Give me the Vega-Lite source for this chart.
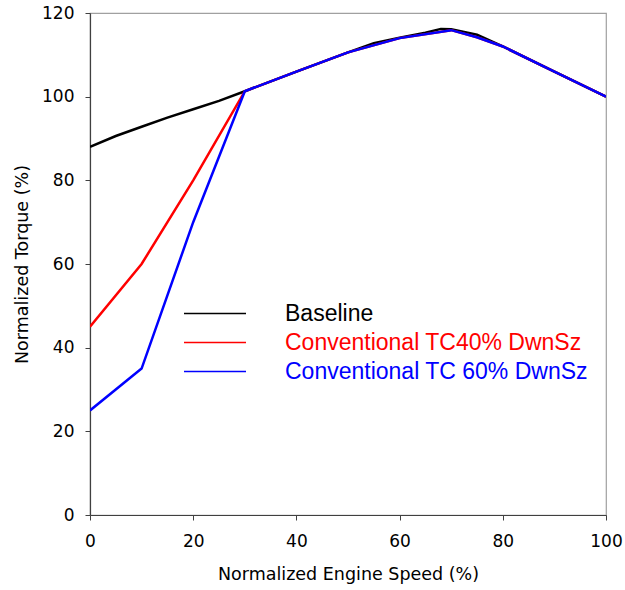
{
  "$schema": "https://vega.github.io/schema/vega-lite/v6.json",
  "width": 516,
  "height": 502,
  "autosize": {"type": "none"},
  "padding": {"left": 90, "top": 13, "right": 19, "bottom": 75},
  "background": "white",
  "config": {
    "view": {"stroke": "#a0a0a0", "strokeWidth": 1.2},
    "axis": {
      "grid": false,
      "domainColor": "#404040",
      "domainWidth": 1.2,
      "tickColor": "#404040",
      "tickSize": 5,
      "labelFlush": false,
      "labelFont": "DejaVu Sans",
      "labelFontSize": 17,
      "labelColor": "black",
      "titleFont": "DejaVu Sans",
      "titleFontSize": 17.5,
      "titleFontWeight": "normal",
      "titleColor": "black"
    }
  },
  "data": {
    "values": [
      {"speed": 0, "torque": 88, "series": "Baseline"},
      {"speed": 5, "torque": 90.6, "series": "Baseline"},
      {"speed": 10, "torque": 92.8, "series": "Baseline"},
      {"speed": 15, "torque": 95, "series": "Baseline"},
      {"speed": 20, "torque": 97, "series": "Baseline"},
      {"speed": 25, "torque": 99, "series": "Baseline"},
      {"speed": 30, "torque": 101.3, "series": "Baseline"},
      {"speed": 40, "torque": 106, "series": "Baseline"},
      {"speed": 50, "torque": 110.6, "series": "Baseline"},
      {"speed": 55, "torque": 112.8, "series": "Baseline"},
      {"speed": 60, "torque": 114.1, "series": "Baseline"},
      {"speed": 65, "torque": 115.3, "series": "Baseline"},
      {"speed": 68, "torque": 116.2, "series": "Baseline"},
      {"speed": 70, "torque": 116.1, "series": "Baseline"},
      {"speed": 75, "torque": 114.8, "series": "Baseline"},
      {"speed": 80, "torque": 112, "series": "Baseline"},
      {"speed": 90, "torque": 106, "series": "Baseline"},
      {"speed": 100, "torque": 100, "series": "Baseline"},
      {"speed": 0, "torque": 45, "series": "Conventional TC40% DwnSz"},
      {"speed": 10, "torque": 60, "series": "Conventional TC40% DwnSz"},
      {"speed": 20, "torque": 80, "series": "Conventional TC40% DwnSz"},
      {"speed": 30, "torque": 101.3, "series": "Conventional TC40% DwnSz"},
      {"speed": 40, "torque": 106, "series": "Conventional TC40% DwnSz"},
      {"speed": 50, "torque": 110.6, "series": "Conventional TC40% DwnSz"},
      {"speed": 60, "torque": 114, "series": "Conventional TC40% DwnSz"},
      {"speed": 70, "torque": 115.9, "series": "Conventional TC40% DwnSz"},
      {"speed": 75, "torque": 114.2, "series": "Conventional TC40% DwnSz"},
      {"speed": 80, "torque": 112, "series": "Conventional TC40% DwnSz"},
      {"speed": 90, "torque": 106, "series": "Conventional TC40% DwnSz"},
      {"speed": 100, "torque": 100, "series": "Conventional TC40% DwnSz"},
      {"speed": 0, "torque": 25, "series": "Conventional TC 60% DwnSz"},
      {"speed": 10, "torque": 35, "series": "Conventional TC 60% DwnSz"},
      {"speed": 20, "torque": 70, "series": "Conventional TC 60% DwnSz"},
      {"speed": 30, "torque": 101.3, "series": "Conventional TC 60% DwnSz"},
      {"speed": 40, "torque": 106, "series": "Conventional TC 60% DwnSz"},
      {"speed": 50, "torque": 110.6, "series": "Conventional TC 60% DwnSz"},
      {"speed": 60, "torque": 114, "series": "Conventional TC 60% DwnSz"},
      {"speed": 70, "torque": 115.9, "series": "Conventional TC 60% DwnSz"},
      {"speed": 75, "torque": 114.2, "series": "Conventional TC 60% DwnSz"},
      {"speed": 80, "torque": 112, "series": "Conventional TC 60% DwnSz"},
      {"speed": 90, "torque": 106, "series": "Conventional TC 60% DwnSz"},
      {"speed": 100, "torque": 100, "series": "Conventional TC 60% DwnSz"}
    ]
  },
  "mark": {"type": "line", "strokeWidth": 2.5, "clip": true},
  "encoding": {
    "x": {
      "field": "speed",
      "type": "quantitative",
      "scale": {"domain": [0, 100], "nice": false},
      "axis": {"values": [0, 20, 40, 60, 80, 100], "title": "Normalized Engine Speed (%)", "labelPadding": 13, "titlePadding": 16}
    },
    "y": {
      "field": "torque",
      "type": "quantitative",
      "scale": {"domain": [0, 120], "nice": false},
      "axis": {"values": [0, 20, 40, 60, 80, 100, 120], "title": "Normalized Torque (%)", "labelPadding": 11, "titlePadding": 10}
    },
    "color": {
      "field": "series",
      "type": "nominal",
      "sort": null,
      "scale": {
        "domain": ["Baseline", "Conventional TC40% DwnSz", "Conventional TC 60% DwnSz"],
        "range": ["#000000", "#ff0000", "#0000ff"]
      },
      "legend": {
        "title": null,
        "orient": "none",
        "legendX": 108.5,
        "legendY": 284,
        "padding": 0,
        "symbolType": "M-2,0H2",
        "symbolSize": 961,
        "symbolStrokeWidth": 1.5,
        "labelFont": "Liberation Sans",
        "labelFontSize": 23,
        "labelOffset": 53.5,
        "labelLimit": 400,
        "rowPadding": 0,
        "labelColor": {"expr": "scale('color', datum.value)"}
      }
    }
  }
}
